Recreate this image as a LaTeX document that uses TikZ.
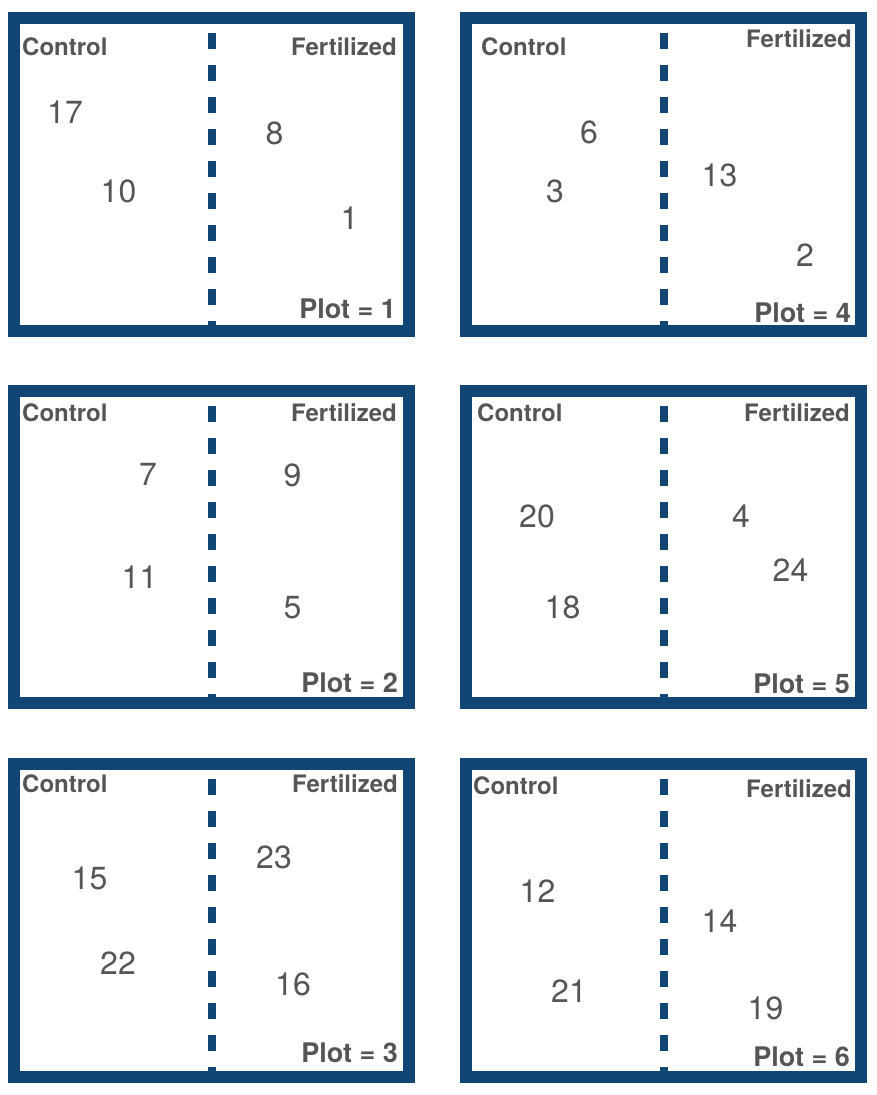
\documentclass[tikz,border=0pt]{standalone}
\usepackage{fontspec}
\setmainfont{TeX Gyre Heros}
\definecolor{frameblue}{HTML}{114573}
\definecolor{txtgray}{HTML}{555555}
\tikzset{
  frame/.style={draw=frameblue, line width=12pt},
  divider/.style={draw=frameblue, line width=8pt, dash pattern=on 16pt off 16pt},
  hdr/.style={text=txtgray, font=\fontsize{24}{28}\selectfont\bfseries, inner sep=0pt},
  ctl/.style={hdr, anchor=base west},
  fert/.style={hdr, anchor=base east},
  num/.style={text=txtgray, font=\fontsize{32}{36}\selectfont, inner sep=0pt, anchor=base},
  plotlbl/.style={text=txtgray, font=\fontsize{27}{31}\selectfont\bfseries, inner sep=0pt, anchor=base east},
}
\begin{document}
\begin{tikzpicture}[x=1pt, y=-1pt]
\useasboundingbox (0,0) rectangle (876,1095);
\fill[white] (0,0) rectangle (876,1095);

% frames
\draw[frame] (14,18) rectangle (409,331);
\draw[frame] (466,18) rectangle (861,331);
\draw[frame] (14,391) rectangle (409,703);
\draw[frame] (466,391) rectangle (861,703);
\draw[frame] (14,764) rectangle (409,1077);
\draw[frame] (466,764) rectangle (861,1077);

% dividers
\coordinate (d1a) at (212,33);  \coordinate (d1b) at (212,325);
\coordinate (d4a) at (664,33);  \coordinate (d4b) at (664,325);
\coordinate (d2a) at (212,406); \coordinate (d2b) at (212,698);
\coordinate (d5a) at (664,406); \coordinate (d5b) at (664,698);
\coordinate (d3a) at (212,779); \coordinate (d3b) at (212,1071);
\coordinate (d6a) at (664,779); \coordinate (d6b) at (664,1071);
\draw[divider] (d1a) -- (d1b);
\draw[divider] (d4a) -- (d4b);
\draw[divider] (d2a) -- (d2b);
\draw[divider] (d5a) -- (d5b);
\draw[divider] (d3a) -- (d3b);
\draw[divider] (d6a) -- (d6b);

% Plot 1
\node[ctl]  (c1) at (22,55) {Control};
\node[fert] (f1) at (397,55) {Fertilized};
\node[num] (n17) at (65,123) {17};
\node[num] (n10) at (118.5,202) {10};
\node[num] (n8) at (274.5,144) {8};
\node[num] (n1) at (349.5,229) {1};
\node[plotlbl] (p1) at (396,318) {Plot = 1};

% Plot 4
\node[ctl]  (c4) at (481,55) {Control};
\node[fert] (f4) at (852,47) {Fertilized};
\node[num] (n6) at (589,143) {6};
\node[num] (n3) at (555,202) {3};
\node[num] (n13) at (719.5,186) {13};
\node[num] (n2) at (805,266) {2};
\node[plotlbl] (p4) at (851,322) {Plot = 4};

% Plot 2
\node[ctl]  (c2) at (22,421) {Control};
\node[fert] (f2) at (397,421) {Fertilized};
\node[num] (n7) at (148,485) {7};
\node[num] (n11) at (139.5,588) {11};
\node[num] (n9) at (292.5,486) {9};
\node[num] (n5) at (292.5,618) {5};
\node[plotlbl] (p2) at (398,692) {Plot = 2};

% Plot 5
\node[ctl]  (c5) at (477,421) {Control};
\node[fert] (f5) at (850,421) {Fertilized};
\node[num] (n20) at (537,527) {20};
\node[num] (n18) at (562.5,618) {18};
\node[num] (n4) at (741,527) {4};
\node[num] (n24) at (790.5,581) {24};
\node[plotlbl] (p5) at (850,693) {Plot = 5};

% Plot 3
\node[ctl]  (c3) at (22,792) {Control};
\node[fert] (f3) at (398,792) {Fertilized};
\node[num] (n15) at (89.5,889) {15};
\node[num] (n22) at (118,974) {22};
\node[num] (n23) at (274,868) {23};
\node[num] (n16) at (293,995) {16};
\node[plotlbl] (p3) at (398,1062) {Plot = 3};

% Plot 6
\node[ctl]  (c6) at (473,794) {Control};
\node[fert] (f6) at (852,797) {Fertilized};
\node[num] (n12) at (537.5,902) {12};
\node[num] (n21) at (569,1002) {21};
\node[num] (n14) at (719.5,932) {14};
\node[num] (n19) at (765.5,1019) {19};
\node[plotlbl] (p6) at (850,1066) {Plot = 6};
\end{tikzpicture}
\end{document}
